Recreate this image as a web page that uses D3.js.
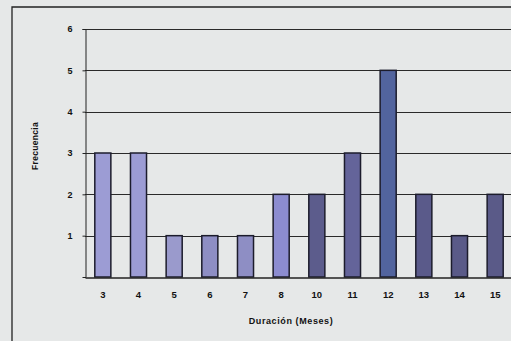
<!DOCTYPE html>
<html>
<head>
<meta charset="utf-8">
<script src="https://cdn.jsdelivr.net/npm/d3@7"></script>
<style>
  html, body { margin: 0; padding: 0; background: #e6e8e8; }
  svg { display: block; }
  text { font-family: "Liberation Sans", Arial, sans-serif; font-weight: bold; fill: #111; }
</style>
</head>
<body>
<svg id="chart" width="511" height="341"></svg>
<script>
// Duración en meses y frecuencia observada
const categories = ["3", "4", "5", "6", "7", "8", "10", "11", "12", "13", "14", "15"];
const frequencies = [3, 3, 1, 1, 1, 2, 2, 3, 5, 2, 1, 2];
const yTicks = [1, 2, 3, 4, 5, 6];
const xTitle = "Duración (Meses)";
const yTitle = "Frecuencia";

// Relleno por barra: tono claro para las primeras, más oscuro para las demás
const fills = ["#9c9cd4", "#9c9cd4", "#9a9acc", "#8e8ec4", "#8e8ec4", "#8c8cd0",
               "#5c5c8c", "#64649a", "#52649e", "#5a5a8a", "#5a5a88", "#5a5a88"];

const svg = d3.select("#chart");
const W = 511, H = 341;
const plot = { left: 85, right: 513, top: 29, bottom: 277 };

svg.append("rect").attr("width", W).attr("height", H).attr("fill", "#e6e8e8");

// Marco exterior del gráfico
svg.append("path")
  .attr("d", `M12,${H} V7 H${W}`)
  .attr("fill", "none").attr("stroke", "#222").attr("stroke-width", 1.3);

const x = d3.scaleBand().domain(categories).range([plot.left, plot.right]).padding(0);
const y = d3.scaleLinear().domain([0, 6]).range([plot.bottom, plot.top]);

// Líneas de división horizontales
svg.append("g").selectAll("line").data(yTicks).join("line")
  .attr("x1", plot.left).attr("x2", plot.right)
  .attr("y1", d => Math.round(y(d)) + 0.5).attr("y2", d => Math.round(y(d)) + 0.5)
  .attr("stroke", "#2a2a2a").attr("stroke-width", 1);

// Eje Y
const yAxis = d3.axisLeft(y).tickValues(yTicks).tickSize(3).tickPadding(10).tickFormat(d3.format("d"));
const gy = svg.append("g").attr("transform", `translate(${plot.left + 0.5},0)`).call(yAxis);
gy.select(".domain").attr("stroke", "#222");
gy.selectAll(".tick line").attr("stroke", "#222");
gy.selectAll(".tick text").attr("font-size", 9).attr("fill", "#111");

// Barras
const bw = x.bandwidth() * 0.45;
svg.append("g").selectAll("rect").data(frequencies).join("rect")
  .attr("x", (d, i) => x(categories[i]) + (x.bandwidth() - bw) / 2)
  .attr("y", d => y(d))
  .attr("width", bw)
  .attr("height", d => y(0) - y(d))
  .attr("fill", (d, i) => fills[i])
  .attr("stroke", "#1c1c2c").attr("stroke-width", 1.5);

// Eje X
const xAxis = d3.axisBottom(x).tickSize(0).tickPadding(14);
const gx = svg.append("g").attr("transform", `translate(0,${plot.bottom + 0.5})`).call(xAxis);
gx.select(".domain").attr("stroke", "#222").attr("stroke-width", 1.3);
gx.selectAll(".tick text").attr("font-size", 9.5).attr("fill", "#111");

// Títulos de los ejes
svg.append("text")
  .attr("x", 291).attr("y", 324)
  .attr("text-anchor", "middle").attr("font-size", 9).attr("letter-spacing", 0.6)
  .text(xTitle);

svg.append("text")
  .attr("transform", "translate(38,146) rotate(-90)")
  .attr("text-anchor", "middle").attr("font-size", 8.5).attr("letter-spacing", 0.3)
  .text(yTitle);
</script>
</body>
</html>
